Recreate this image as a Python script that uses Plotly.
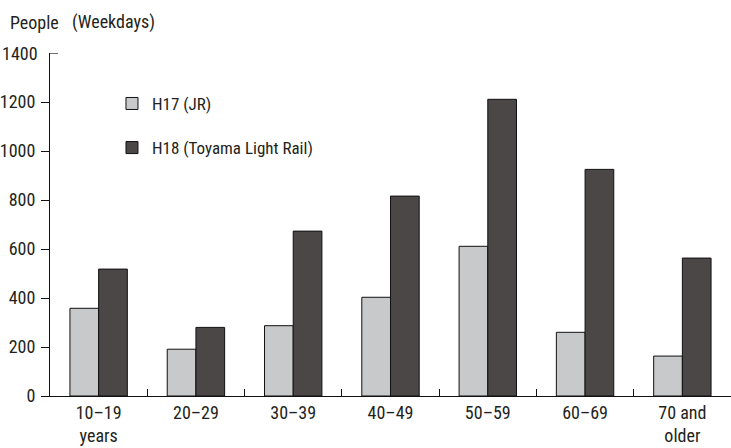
import plotly.graph_objects as go

# Age groups and weekday ridership (people)
age_groups = ["10–19<br>years", "20–29", "30–39", "40–49", "50–59", "60–69", "70 and<br>older"]
h17_jr = [358, 191, 287, 403, 611, 260, 163]
h18_tlr = [518, 280, 673, 816, 1211, 925, 563]
y_ticks = [0, 200, 400, 600, 800, 1000, 1200, 1400]

FONT = "Liberation Sans Narrow, Roboto Condensed, DejaVu Sans Condensed, Arial Narrow, sans-serif"
TEXT = "#231f20"
LINE = "#111111"

fig = go.Figure()
fig.add_trace(go.Bar(
    x=age_groups, y=h17_jr, name="H17 (JR)", legendgroup="a",
    marker=dict(color="#c8c9cb", line=dict(color=LINE, width=1)),
))
fig.add_trace(go.Bar(
    x=age_groups, y=h18_tlr, name="H18 (Toyama Light Rail)", legendgroup="b",
    marker=dict(color="#4b4747", line=dict(color=LINE, width=1)),
))

pw, ph = 731 - 50, 448 - 53 - 52

fig.update_layout(
    width=731, height=448,
    margin=dict(l=50, r=0, t=53, b=52),
    paper_bgcolor="white", plot_bgcolor="white",
    barmode="group", bargap=0.41, bargroupgap=0,
    font=dict(family=FONT, size=18, color=TEXT),
    showlegend=True,
    legend=dict(
        x=0.091, y=0.904, xanchor="left", yanchor="top",
        traceorder="grouped", tracegroupgap=19,
        bgcolor="rgba(0,0,0,0)", font=dict(size=17, color=TEXT),
    ),
    xaxis=dict(
        showline=True, linecolor=LINE, linewidth=1.2,
        ticks="inside", ticklen=7, tickcolor=LINE, tickwidth=1.2,
        tickson="boundaries", showgrid=False, zeroline=False,
        tickfont=dict(size=18, color=TEXT),
    ),
    yaxis=dict(
        range=[0, y_ticks[-1]], tickvals=y_ticks[:-1],
        showline=True, linecolor=LINE, linewidth=1.2,
        ticks="outside", ticklen=8, tickcolor=LINE, tickwidth=1.2,
        showgrid=False, zeroline=False, ticklabelstandoff=2,
        tickfont=dict(size=18, color=TEXT),
    ),
)

# header text, positioned in pixels
for text, px in [("People", 8), ("(Weekdays)", 70)]:
    fig.add_annotation(text=text, x=(px - 50) / pw, y=1 + (53 - 22) / ph,
                       xref="paper", yref="paper", showarrow=False,
                       xanchor="left", yanchor="middle", font=dict(size=18, color=TEXT))

# top value label with a short inward tick
fig.add_annotation(text=str(y_ticks[-1]), x=-10 / pw, y=y_ticks[-1], xref="x domain", yref="y",
                   showarrow=False, xanchor="right", yanchor="middle",
                   font=dict(size=18, color=TEXT))
fig.add_shape(type="line", xref="x domain", yref="y", x0=0, x1=8 / pw,
              y0=y_ticks[-1], y1=y_ticks[-1], line=dict(color=LINE, width=1.2))

fig.write_html("out.html")
